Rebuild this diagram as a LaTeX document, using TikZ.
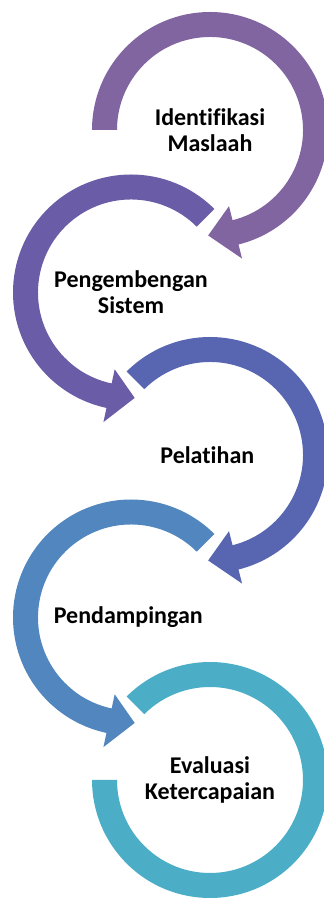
\documentclass[tikz,border=0pt]{standalone}
\usepackage{fontspec}
\setmainfont{Carlito}[Ligatures=NoCommon]
\definecolor{ringA}{HTML}{8165A1}
\definecolor{ringB}{HTML}{6A5CA6}
\definecolor{ringC}{HTML}{5865B1}
\definecolor{ringD}{HTML}{5186BE}
\definecolor{ringE}{HTML}{4BADC6}
\tikzset{
  steptext/.style={align=center, font=\bfseries\fontsize{24}{26}\selectfont},
}
\begin{document}
\begin{tikzpicture}[x=1pt, y=1pt]
    \useasboundingbox (0,0) rectangle (324,900);
    %tikz labels at the ring centres
    \node[steptext] at (210,770) (ident){ Identifikasi\\Maslaah };
    \node[steptext] at (131,607.5) (kembang){ Pengembengan\\Sistem };
    \node[steptext] at (210,445) (latih){ Pelatihan };
    \node[steptext] at (131,282.5) (damping){ Pendampingan };
    \node[steptext] at (210,120) (evaluasi){ Evaluasi\\Ketercapaian };
    %clockwise rings
    \fill[ringA] ([shift={(180:118pt)}]ident.center) arc[start angle=180, end angle=-76, radius=118pt]
      -- ([shift={(-76:132.5pt)}]ident.center) -- ([shift={(-91:105.5pt)}]ident.center)
      -- ([shift={(-76:78.5pt)}]ident.center) -- ([shift={(-76:93pt)}]ident.center)
      arc[start angle=-76, end angle=180, radius=93pt] -- cycle;
    \fill[ringC] ([shift={(135:118pt)}]latih.center) arc[start angle=135, end angle=-76, radius=118pt]
      -- ([shift={(-76:132.5pt)}]latih.center) -- ([shift={(-91:105.5pt)}]latih.center)
      -- ([shift={(-76:78.5pt)}]latih.center) -- ([shift={(-76:93pt)}]latih.center)
      arc[start angle=-76, end angle=135, radius=93pt] -- cycle;
    \fill[ringE] ([shift={(135:118pt)}]evaluasi.center) arc[start angle=135, end angle=-180, radius=118pt]
      -- ([shift={(-180:93pt)}]evaluasi.center)
      arc[start angle=-180, end angle=135, radius=93pt] -- cycle;
    %counter-clockwise rings
    \fill[ringB] ([shift={(45:118pt)}]kembang.center) arc[start angle=45, end angle=258, radius=118pt]
      -- ([shift={(258:132.5pt)}]kembang.center) -- ([shift={(272:105.5pt)}]kembang.center)
      -- ([shift={(258:78.5pt)}]kembang.center) -- ([shift={(258:93pt)}]kembang.center)
      arc[start angle=258, end angle=45, radius=93pt] -- cycle;
    \fill[ringD] ([shift={(45:118pt)}]damping.center) arc[start angle=45, end angle=258, radius=118pt]
      -- ([shift={(258:132.5pt)}]damping.center) -- ([shift={(272:105.5pt)}]damping.center)
      -- ([shift={(258:78.5pt)}]damping.center) -- ([shift={(258:93pt)}]damping.center)
      arc[start angle=258, end angle=45, radius=93pt] -- cycle;
  \end{tikzpicture}
\end{document}
